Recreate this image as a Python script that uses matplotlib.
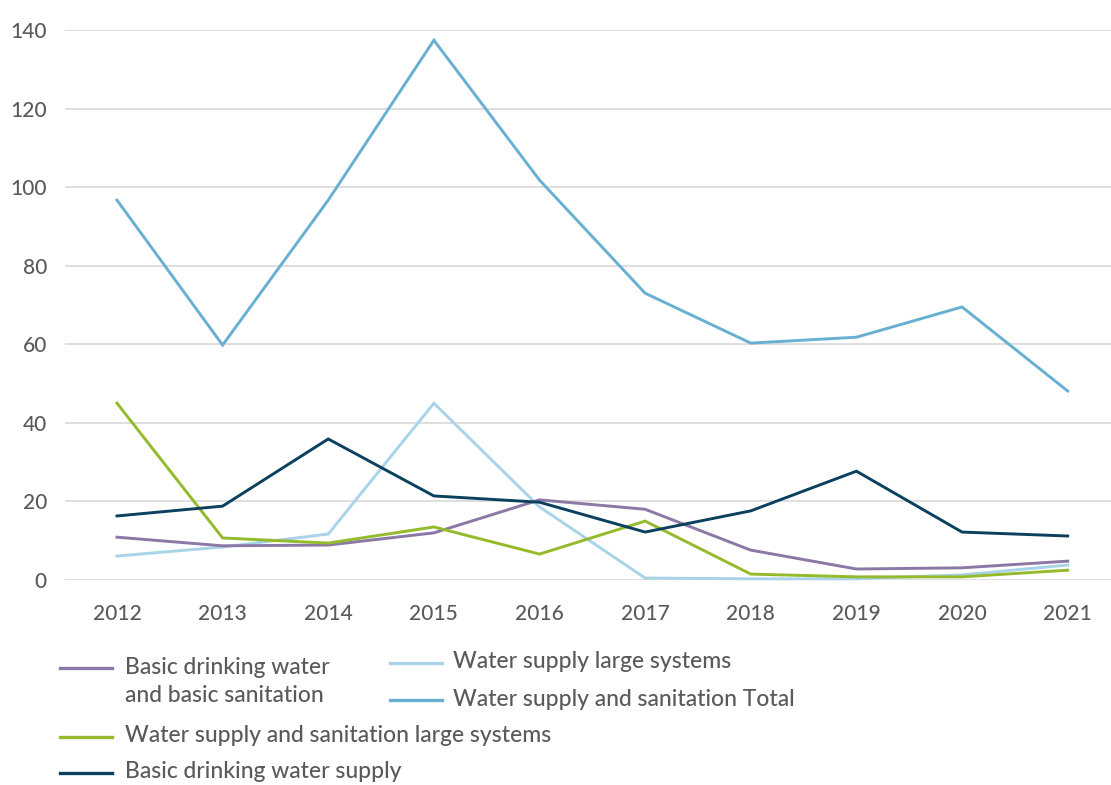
import matplotlib
matplotlib.use('Agg')
import matplotlib.pyplot as plt
from matplotlib.lines import Line2D

plt.rcParams['font.family'] = ['Lato', 'DejaVu Sans']

years = [2012, 2013, 2014, 2015, 2016, 2017, 2018, 2019, 2020, 2021]

basic_water_sanitation = [10.9, 8.7, 8.9, 12.0, 20.4, 18.0, 7.6, 2.8, 3.1, 4.8]
water_large = [6.1, 8.4, 11.7, 45.0, 18.6, 0.5, 0.3, 0.3, 1.3, 3.8]
wss_total = [96.7, 59.8, 96.7, 137.4, 101.8, 73.0, 60.3, 61.8, 69.5, 48.1]
wss_large = [45.0, 10.7, 9.4, 13.5, 6.6, 15.0, 1.5, 0.8, 0.8, 2.5]
basic_water_supply = [16.3, 18.8, 35.9, 21.4, 19.8, 12.2, 17.6, 27.7, 12.2, 11.2]

y_ticks = [0, 20, 40, 60, 80, 100, 120, 140]

series = [
    ('Basic drinking water\nand basic sanitation', basic_water_sanitation, '#8b78a6'),
    ('Water supply large systems', water_large, '#a8d3e8'),
    ('Water supply and sanitation Total', wss_total, '#68b0d2'),
    ('Water supply and sanitation large systems', wss_large, '#94bb2b'),
    ('Basic drinking water supply', basic_water_supply, '#0b405e'),
]

text_color = '#5a5a5a'
W, H = 1111, 785
fig = plt.figure(figsize=(W / 100, H / 100), dpi=100)
ax = fig.add_axes([65 / W, 205 / H, 1046 / W, 550 / H])

# draw in an order so the navy/green lines sit on top like the original
draw_order = [2, 1, 0, 3, 4]
for i in draw_order:
    label, vals, color = series[i]
    ax.plot(years, vals, color=color, linewidth=2.1, clip_on=False,
            solid_joinstyle='miter', zorder=3)

ax.set_xlim(2011.508, 2021.41)
ax.set_ylim(0, 140)
ax.set_yticks(y_ticks)
ax.set_xticks(years)
ax.grid(axis='y', color='#d9d9d9', linewidth=1.2)
ax.set_axisbelow(True)
for s in ax.spines.values():
    s.set_visible(False)
ax.tick_params(axis='both', length=0, labelcolor=text_color, labelsize=15)
ax.tick_params(axis='y', pad=13)
ax.tick_params(axis='x', pad=17)
for lab in ax.get_xticklabels() + ax.get_yticklabels():
    lab.set_fontweight('medium')

# legend built by hand to follow the original two-column layout
def px(x, y):
    return x / W, 1 - y / H

legend_items = [
    (0, 60, 112, 125, 668),
    (1, 390, 442, 453, 663),
    (2, 390, 442, 453, 700),
    (3, 60, 112, 125, 737),
    (4, 60, 112, 125, 773),
]
for idx, x0, x1, xt, yy in legend_items:
    label, vals, color = series[idx]
    (fx0, fy), (fx1, _) = px(x0, yy), px(x1, yy)
    fig.add_artist(Line2D([fx0, fx1], [fy, fy], color=color, linewidth=2.4,
                          transform=fig.transFigure))
    tx, ty = px(xt, yy - 1)
    va = 'center'
    if '\n' in label:
        tx, ty = px(xt, yy - 11)
        va = 'top'
    fig.text(tx, ty, label, color=text_color, fontsize=16.5, va=va, ha='left',
             linespacing=1.4, fontweight='medium')

fig.savefig('out.png', dpi=100)
